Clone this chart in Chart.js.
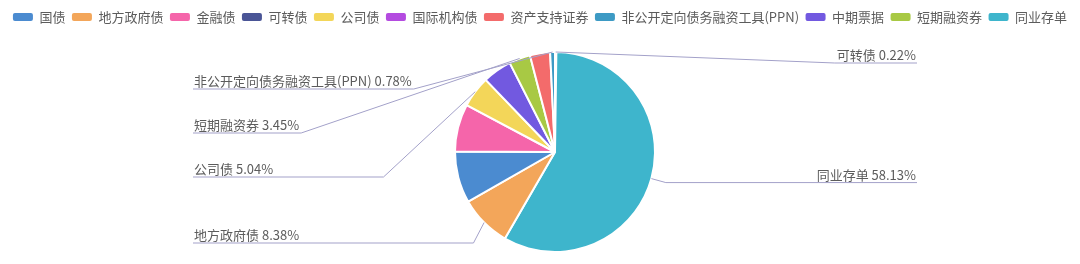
<!DOCTYPE html>
<html>
<head>
<meta charset="utf-8">
<script src="https://cdn.jsdelivr.net/npm/chart.js@4.4.0/dist/chart.umd.min.js"></script>
<style>
  html, body { margin: 0; padding: 0; background: #fff; }
  #wrap { width: 1080px; height: 264px; position: relative; }
</style>
</head>
<body>
<div id="wrap"><canvas id="pieChart"></canvas></div>
<script>
// slices in drawing order, clockwise from 12 o'clock
const categories = ['可转债', '同业存单', '地方政府债', '国债', '金融债', '公司债', '中期票据', '短期融资券', '资产支持证券', '非公开定向债务融资工具(PPN)', '国际机构债'];
const shares = [0.22, 58.13, 8.38, 8.35, 7.70, 5.04, 4.70, 3.45, 3.25, 0.78, 0];
const sliceColors = ['#4a5596', '#3eb5cc', '#f3a65a', '#4b8bd0', '#f565aa', '#f3d659', '#7259e0', '#a8c944', '#f36b6b', '#3d9ac4', '#b44be0'];

// order used by the legend
const legendOrder = ['国债', '地方政府债', '金融债', '可转债', '公司债', '国际机构债', '资产支持证券', '非公开定向债务融资工具(PPN)', '中期票据', '短期融资券', '同业存单'];
// slices that keep their outside label (the rest are hidden by overlap)
const labelled = ['可转债', '同业存单', '地方政府债', '公司债', '短期融资券', '非公开定向债务融资工具(PPN)'];

const FONT = '"Noto Sans CJK SC", "Noto Sans", sans-serif';
const TEXT_COLOR = '#5c5c5c';
const LINE_COLOR = '#a3a1c9';
const PIE = { cx: 555, cy: 152, r: 101 };
const LINE_LEN = 15;      // first leader segment
const EDGE = 362;         // label edge distance from pie centre
const SLOT = 44;          // label slot height
const TOP_BOUND = 63;
const BOTTOM_BOUND = 243;
const MAX_SURFACE_ANGLE = 80 / 180 * Math.PI;

// keeps the first leader segment from leaving the pie too steeply
function limitSurfaceAngle(p0, p1, p2, nx, ny) {
    let dx = p1[0] - p0[0], dy = p1[1] - p0[1];
    let ex = p2[0] - p1[0], ey = p2[1] - p1[1];
    const l1 = Math.hypot(dx, dy), l2 = Math.hypot(ex, ey);
    if (l1 < 1e-3 || l2 < 1e-3) return p1;
    dx /= l1; dy /= l1; ex /= l2; ey /= l2;
    if (dx * nx + dy * ny >= Math.cos(MAX_SURFACE_ANGLE)) return p1;
    const t0 = (p0[0] - p1[0]) * ex + (p0[1] - p1[1]) * ey;
    const proj = [p1[0] + ex * t0, p1[1] + ey * t0];
    const d = Math.hypot(p0[0] - proj[0], p0[1] - proj[1]);
    const angle2 = Math.acos(ex * nx + ey * ny);
    const newAngle = Math.PI / 2 + angle2 - MAX_SURFACE_ANGLE;
    if (newAngle >= Math.PI / 2) return p2.slice();
    const k = d / Math.tan(Math.PI / 2 - newAngle);
    const q = [proj[0] + ex * k, proj[1] + ey * k];
    const t = (q[0] - p1[0]) / (p2[0] - p1[0]);
    if (t < 0) return p1;
    if (t > 1) return p2.slice();
    return q;
}

const pieArea = {
    id: 'pieArea',
    afterLayout(chart) {
        chart.chartArea = {
            left: PIE.cx - PIE.r, right: PIE.cx + PIE.r,
            top: PIE.cy - PIE.r, bottom: PIE.cy + PIE.r,
            width: PIE.r * 2, height: PIE.r * 2
        };
    }
};

const sliceLabels = {
    id: 'sliceLabels',
    afterDatasetsDraw(chart) {
        const ctx = chart.ctx;
        const meta = chart.getDatasetMeta(0);
        const total = shares.reduce((s, v) => s + v, 0);
        ctx.save();
        ctx.font = `13px ${FONT}`;

        const items = [];
        meta.data.forEach((arc, i) => {
            if (!shares[i]) return;
            const p = arc.getProps(['x', 'y', 'startAngle', 'endAngle', 'outerRadius'], true);
            const mid = (p.startAngle + p.endAngle) / 2;
            const nx = Math.cos(mid), ny = Math.sin(mid);
            const text = `${categories[i]} ${(shares[i] / total * 100).toFixed(2)}%`;
            items.push({
                name: categories[i], text, nx, ny, cx: p.x,
                side: nx < 0 ? -1 : 1,
                p0: [p.x + nx * p.outerRadius, p.y + ny * p.outerRadius],
                p1: [p.x + nx * (p.outerRadius + LINE_LEN), p.y + ny * (p.outerRadius + LINE_LEN)],
                w: ctx.measureText(text).width
            });
        });

        // spread labels on each side so they do not collide
        [-1, 1].forEach(side => {
            const list = items.filter(it => it.side === side).sort((a, b) => a.p1[1] - b.p1[1]);
            let pos = TOP_BOUND;
            list.forEach(it => { it.ly = Math.max(it.p1[1], pos); pos = it.ly + SLOT; });
            const n = list.length;
            if (n && list[n - 1].ly > BOTTOM_BOUND) {
                list.forEach((it, k) => { it.ly = BOTTOM_BOUND - (n - 1 - k) * SLOT / 2; });
            }
        });

        ctx.strokeStyle = LINE_COLOR;
        ctx.lineWidth = 1;
        ctx.fillStyle = TEXT_COLOR;
        ctx.textBaseline = 'alphabetic';
        items.filter(it => labelled.includes(it.name)).forEach(it => {
            const outer = it.cx + it.side * EDGE;
            const inner = outer - it.side * (it.w + 3);
            const pt1 = limitSurfaceAngle(it.p0, [it.p1[0], it.ly], [inner, it.ly], it.nx, it.ny);
            ctx.beginPath();
            ctx.moveTo(it.p0[0], it.p0[1]);
            ctx.lineTo(pt1[0], pt1[1]);
            ctx.lineTo(outer, it.ly);
            ctx.stroke();
            ctx.textAlign = it.side < 0 ? 'left' : 'right';
            ctx.fillText(it.text, outer - it.side, it.ly - 3);
        });
        ctx.restore();
    }
};

new Chart(document.getElementById('pieChart'), {
    type: 'pie',
    data: {
        labels: categories,
        datasets: [{
            data: shares,
            backgroundColor: sliceColors,
            borderColor: '#ffffff',
            borderWidth: 2
        }]
    },
    options: {
        responsive: true,
        maintainAspectRatio: false,
        animation: false,
        events: [],
        layout: { padding: { top: 4 } },
        plugins: {
            tooltip: { enabled: false },
            legend: {
                position: 'top',
                labels: {
                    boxWidth: 20,
                    boxHeight: 8,
                    padding: 6.5,
                    useBorderRadius: true,
                    borderRadius: 2,
                    color: TEXT_COLOR,
                    font: { size: 13, family: FONT },
                    generateLabels: () => legendOrder.map(name => {
                        const i = categories.indexOf(name);
                        return {
                            text: name, fillStyle: sliceColors[i], strokeStyle: sliceColors[i],
                            lineWidth: 0, fontColor: TEXT_COLOR, hidden: false, index: i, borderRadius: 2
                        };
                    })
                }
            }
        }
    },
    plugins: [pieArea, sliceLabels]
});
</script>
</body>
</html>
